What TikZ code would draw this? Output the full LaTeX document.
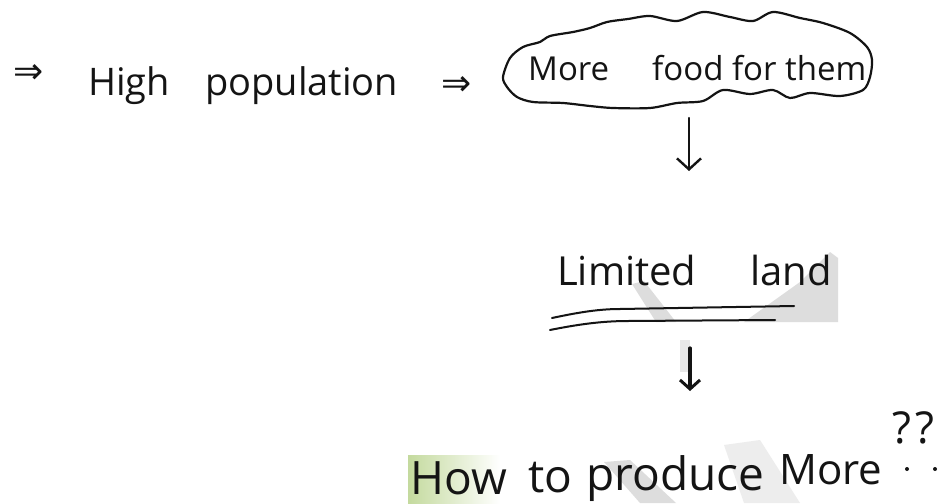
\documentclass[tikz,border=0pt]{standalone}
\usepackage{fontspec}
\setmainfont{Open Sans}
\newfontfamily\symfont{DejaVu Sans}
\usetikzlibrary{arrows.meta}
\definecolor{ink}{RGB}{20,20,20}
\definecolor{marker}{RGB}{196,218,158}
\tikzset{
  note/.style={font=\fontsize{#1}{#1}\selectfont, text=ink, inner sep=0pt},
  implies/.style={font=\symfont\fontsize{36}{36}\selectfont, text=ink, inner sep=0pt, anchor=center},
  flow/.style={draw=ink, line width=2.4pt, line cap=round, -{Straight Barb[length=11pt,width=24pt,line width=2.4pt]}},
  flowbold/.style={draw=ink, line width=3.2pt, line cap=round, -{Straight Barb[length=9pt,width=20pt,line width=3pt]}},
  underl/.style={draw=ink, line width=2pt, line cap=round},
  bubbleline/.style={draw=ink, line width=2.2pt, line join=round},
  smudge/.style={fill=black!35, opacity=0.38, draw=none},
  qdot/.style={circle, fill=ink, inner sep=0pt, minimum size=4pt}
}
\begin{document}
\begin{tikzpicture}[x=1pt,y=-1pt]
\useasboundingbox (0,0) rectangle (952,503);
\fill[white] (0,0) rectangle (952,503);

% marker highlight behind the first word of the question
\shade[left color=marker, right color=white, draw=none] (408,455) rectangle (500,503);

% pen shadows on the paper
\fill[smudge] (632,284) -- (644,281) -- (676,322) -- (656,322) -- cycle;
\fill[smudge] (744,322) -- (800,282) -- (830,252) -- (838,258) -- (838,322) -- cycle;
\fill[smudge] (604,462) -- (630,460) -- (676,503) -- (640,503) -- cycle;
\fill[smudge, opacity=0.2] (724,445) -- (760,440) -- (800,503) -- (744,503) -- cycle;
\fill[smudge, opacity=0.25] (680,340) -- (690,340) -- (690,372) -- (680,372) -- cycle;

% first line
\node[implies] (imp1) at (29,74) {⇒};
\node[note=38, anchor=base west] (high) at (88,95) {High};
\node[note=38, anchor=base west] (pop) at (205,95) {population};
\node[implies] (imp2) at (457,86) {⇒};

% thought bubble round the text
\node[minimum width=370pt, minimum height=95pt, inner sep=0pt] (food) at (687,60) {};
\draw[bubbleline] plot[smooth cycle, tension=0.5] coordinates {
  (503,77) (510,58) (523,47) (540,42) (550,36) (573,32) (590,28) (607,22)
  (628,19) (650,16) (677,21) (703,12) (730,17) (753,21) (773,12) (800,18)
  (823,23) (850,33) (867,47) (872,60) (870,77) (863,90) (840,96) (810,93)
  (790,98) (773,90) (750,94) (723,90) (703,101) (677,103) (650,108)
  (613,108) (590,106) (563,103) (533,102) (517,97) (507,87)};
\node[note=33, anchor=base west] (more1) at (528,80) {More};
\node[note=33, anchor=base west] (foodtxt) at (652,80) {food for them};

% middle line
\node[note=40, anchor=base west] (limited) at (557,285) {Limited};
\node[note=40, anchor=base west] (land) at (750,285) {land};
\coordinate (ulA) at (552,318);
\coordinate (ulB) at (794,306);
\coordinate (ulC) at (550,330);
\coordinate (ulD) at (775,320);
\draw[underl] (ulA) .. controls (580,312) and (600,309) .. (620,309) -- (ulB);
\draw[underl] (ulC) .. controls (575,325) and (600,321) .. (628,321) -- (ulD);

% question line
\node[note=46, anchor=base west] (how) at (410,494) {How};
\node[note=46, anchor=base west] (to) at (528,492) {to};
\node[note=46, anchor=base west] (produce) at (586,490) {produce};
\node[note=42, anchor=base west] (more2) at (779,484) {More};
\node[note=44, anchor=base west] (qq) at (892,443) {?\kern4pt?};
\node[qdot] (dotA) at (907,469) {};
\node[qdot] (dotB) at (935,469) {};

% connectors
\coordinate (a1) at (689,118);
\coordinate (a2) at (689,171);
\draw[flow] (a1) -- (a2);
\coordinate (b1) at (690,348);
\coordinate (b2) at (690,391);
\draw[flowbold] (b1) -- (b2);
\end{tikzpicture}
\end{document}
